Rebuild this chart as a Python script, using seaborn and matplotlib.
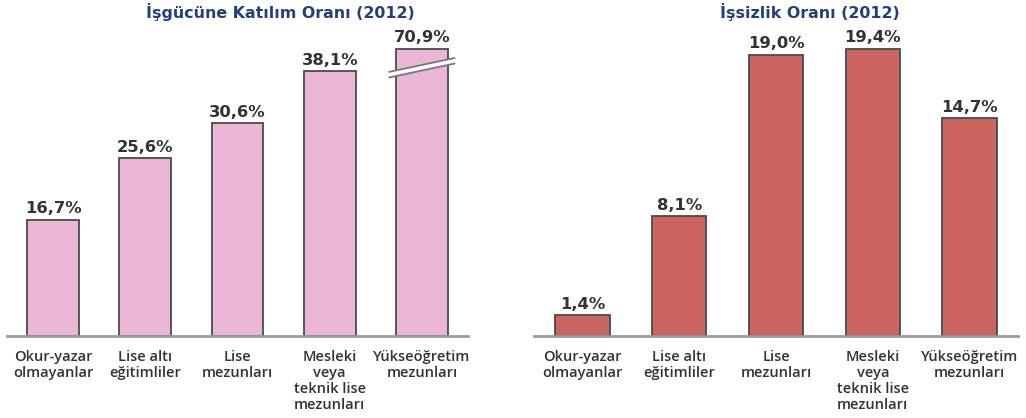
import matplotlib
matplotlib.use("Agg")
import matplotlib.pyplot as plt
import seaborn as sns
import pandas as pd
import numpy as np
from matplotlib.patches import Polygon

categories = ["Okur-yazar\nolmayanlar", "Lise altı\neğitimliler", "Lise\nmezunları",
              "Mesleki\nveya\nteknik lise\nmezunları", "Yükseöğretim\nmezunları"]
participation = [16.7, 25.6, 30.6, 38.1, 70.9]
unemployment = [1.4, 8.1, 19.0, 19.4, 14.7]
title_left = "İşgücüne Katılım Oranı (2012)"
title_right = "İşsizlik Oranı (2012)"

sns.set_theme(style="white")
plt.rcParams['font.family'] = ['Open Sans', 'DejaVu Sans']

W, H = 1026, 418
fig = plt.figure(figsize=(W / 100, H / 100), dpi=100)

pink = "#ECB6D6"
red = "#CC6462"
edge = "#4a4a4a"
title_col = "#23407E"
text_col = "#333333"

# left axes: baseline 336 px, 6.95 px per %
ylim_l = 45
ax1 = fig.add_axes([7 / W, (H - 336) / H, 461 / W, ylim_l * 6.95 / H])
ylim_r = 21
ax2 = fig.add_axes([534 / W, (H - 336) / H, 484 / W, ylim_r * 14.8 / H])

cap = 41.3  # visible height for the broken bar
disp_left = [min(v, cap) for v in participation]

df1 = pd.DataFrame({"cat": categories, "val": disp_left})
df2 = pd.DataFrame({"cat": categories, "val": unemployment})

sns.barplot(data=df1, x="cat", y="val", color=pink, saturation=1, edgecolor=edge,
            linewidth=1.3, width=0.56, ax=ax1)
sns.barplot(data=df2, x="cat", y="val", color=red, saturation=1, edgecolor=edge,
            linewidth=1.3, width=0.56, ax=ax2)

for ax, vals, disp, ylim in [(ax1, participation, disp_left, ylim_l),
                              (ax2, unemployment, unemployment, ylim_r)]:
    ax.set_ylim(0, ylim)
    ax.set_xlim(-0.5, 4.5)
    ax.set_xlabel("")
    ax.set_ylabel("")
    ax.set_yticks([])
    for s in ["top", "right", "left"]:
        ax.spines[s].set_visible(False)
    ax.spines["bottom"].set_color("#9a9a9a")
    ax.spines["bottom"].set_linewidth(2)
    ax.tick_params(axis="x", length=0, pad=10)
    for lbl in ax.get_xticklabels():
        lbl.set_fontsize(10.5)
        lbl.set_fontweight("semibold")
        lbl.set_color(text_col)
        lbl.set_linespacing(1.2)
    for i, (v, d) in enumerate(zip(vals, disp)):
        ax.annotate(f"{v:.1f}%".replace(".", ","), (i, d), xytext=(0, 2.5),
                    textcoords="offset points", ha="center", va="bottom",
                    fontsize=11.8, fontweight="bold", color=text_col,
                    family="DejaVu Sans")

# break marker on the capped bar
i = 4
x0, x1 = i - 0.355, i + 0.355
y0, y1 = 38.0, 40.0
th = 0.8
poly = Polygon([[x0, y0], [x1, y1], [x1, y1 - th], [x0, y0 - th]], closed=True,
               facecolor="white", edgecolor="none", zorder=5, clip_on=False)
ax1.add_patch(poly)
ax1.plot([x0, x1], [y0, y1], color="#777777", lw=1.3, zorder=6, clip_on=False)
ax1.plot([x0, x1], [y0 - th, y1 - th], color="#777777", lw=1.3, zorder=6, clip_on=False)

fig.text(280 / W, 1 - 12 / H, title_left, ha="center", va="center",
         fontsize=11.4, fontweight="bold", color=title_col, family="DejaVu Sans")
fig.text(810 / W, 1 - 12 / H, title_right, ha="center", va="center",
         fontsize=11.4, fontweight="bold", color=title_col, family="DejaVu Sans")

fig.savefig("out.png", dpi=100, facecolor="white")
